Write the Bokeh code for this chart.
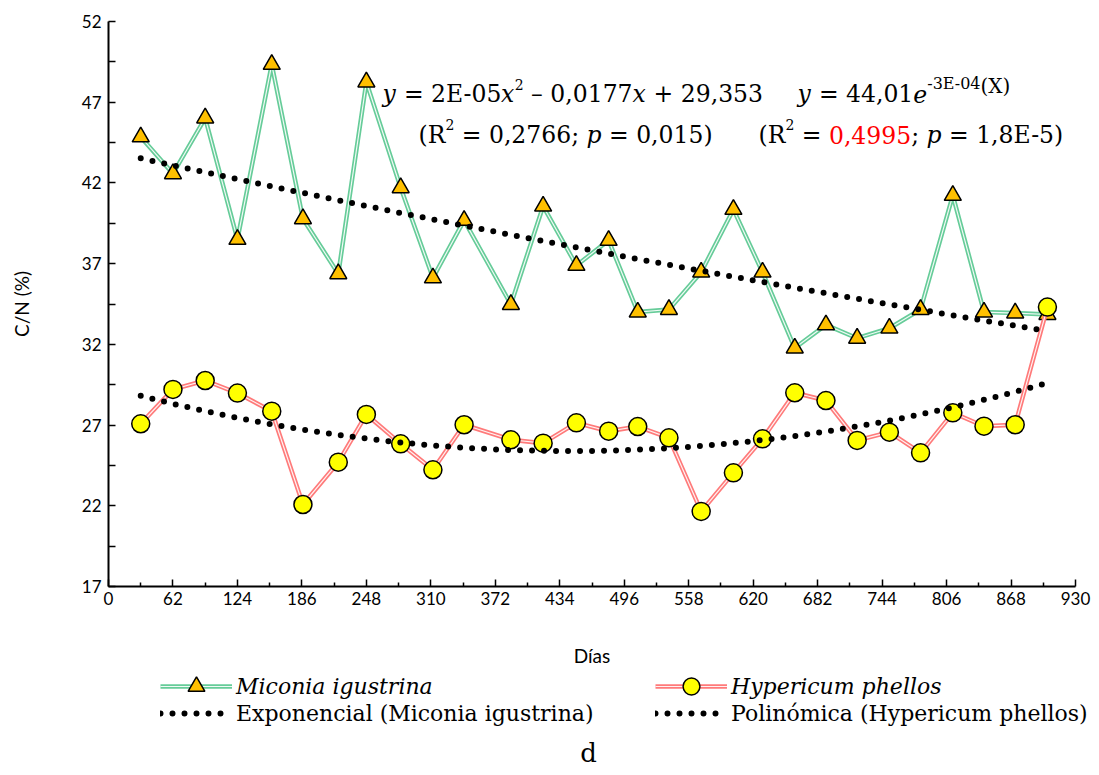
import numpy as np
from bokeh.plotting import figure
from bokeh.layouts import column
from bokeh.models import Range1d, FixedTicker, Label, Legend, LegendItem
from bokeh.embed import file_html
from bokeh.resources import INLINE

# ---------------- data ----------------
days = [31, 62, 93, 124, 157, 187, 221, 248, 281, 312, 342, 387, 418, 450, 481,
        509, 539, 570, 601, 629, 660, 690, 720, 751, 781, 812, 842, 872, 903]
miconia = [44.85, 42.57, 46.02, 38.50, 49.34, 39.78, 36.37, 48.25, 41.70, 36.12,
           39.68, 34.47, 40.56, 36.89, 38.44, 34.00, 34.16, 36.47, 40.36, 36.47,
           31.77, 33.21, 32.38, 33.00, 34.16, 41.23, 34.00, 33.94, 33.85]
hypericum = [27.08, 29.21, 29.76, 28.98, 27.86, 22.08, 24.70, 27.66, 25.84, 24.23,
             27.02, 26.09, 25.88, 27.14, 26.62, 26.91, 26.21, 21.65, 24.04, 26.15,
             29.00, 28.52, 26.05, 26.56, 25.28, 27.76, 26.93, 27.02, 34.31]
x_ticks = [0, 62, 124, 186, 248, 310, 372, 434, 496, 558, 620, 682, 744, 806, 868, 930]
y_ticks = [17, 22, 27, 32, 37, 42, 47, 52]
series_names = ["Miconia igustrina", "Hypericum phellos"]
trend_names = ["Exponencial (Miconia igustrina)", "Polinómica (Hypericum phellos)"]

# ---------------- trendlines fitted from the data ----------------
xs = np.linspace(days[0], days[-1], 300)
b_exp, loga = np.polyfit(days, np.log(miconia), 1)
exp_y = np.exp(loga) * np.exp(b_exp * xs)
c2 = np.polyfit(days, hypericum, 2)
poly_y = np.polyval(c2, xs)

x_minor = [(a + b) / 2 for a, b in zip(x_ticks[:-1], x_ticks[1:])]
y_minor = [(a + b) / 2 for a, b in zip(y_ticks[:-1], y_ticks[1:])]

GREEN = "#66CC99"
RED = "#FF7A7A"
GOLD = "#FFC000"
YEL = "#FFFF00"
SERIF = "DejaVu Serif"
SANS = "Lato"

W_ALL, H_ALL = 1099, 775
H_MAIN = 672
FL, FT, FB = 108, 21, 586  # frame left / top / bottom (canvas px)

p = figure(width=W_ALL, height=H_MAIN, output_backend="svg", toolbar_location=None, tools="",
           x_range=Range1d(0, 930), y_range=Range1d(17, 52),
           min_border_left=FL, min_border_right=24, min_border_top=FT,
           min_border_bottom=H_MAIN - FB)
p.outline_line_color = None
p.grid.visible = False

# axes
p.xaxis.ticker = FixedTicker(ticks=x_ticks, minor_ticks=x_minor)
p.yaxis.ticker = FixedTicker(ticks=y_ticks, minor_ticks=y_minor)
for ax in (p.xaxis[0], p.yaxis[0]):
    ax.axis_line_color = "black"
    ax.axis_line_width = 2
    ax.major_tick_line_color = "black"
    ax.minor_tick_line_color = "black"
    ax.major_tick_line_width = 1.5
    ax.minor_tick_line_width = 1.5
    ax.major_tick_out = 0
    ax.minor_tick_out = 0
    ax.major_label_text_font = SANS
    ax.major_label_text_font_size = "17px"
    ax.major_label_text_color = "black"
    ax.axis_label_text_font = SANS
    ax.axis_label_text_font_size = "19px"
    ax.axis_label_text_font_style = "normal"
    ax.axis_label_text_color = "black"
p.xaxis.major_tick_in = 7
p.xaxis.minor_tick_in = 4
p.yaxis.major_tick_in = 7
p.yaxis.minor_tick_in = 7
p.xaxis.axis_label = "Días"
p.yaxis.axis_label = "C/N (%)"
p.xaxis.major_label_standoff = 5
p.xaxis.axis_label_standoff = 36
p.yaxis.major_label_standoff = 7
p.yaxis.axis_label_standoff = 46

# series
line_kw = dict(line_width=4.5)
g1 = p.line(days, miconia, line_color=GREEN, **line_kw)
g2 = p.line(days, miconia, line_color="white", line_width=1.2, line_alpha=0.9)
g3 = p.scatter(days, miconia, marker="triangle", size=17, fill_color=GOLD,
               line_color="black", line_width=1.5)
h1 = p.line(days, hypericum, line_color=RED, **line_kw)
h2 = p.line(days, hypericum, line_color="white", line_width=1.2, line_alpha=0.9)
h3 = p.scatter(days, hypericum, marker="circle", size=18, fill_color=YEL,
               line_color="black", line_width=1.5)
dot_kw = dict(line_color="black", line_width=6, line_dash="0 12", line_cap="round")
t1 = p.line(xs, exp_y, **dot_kw)
t2 = p.line(xs, poly_y, **dot_kw)


# ---------------- text helpers (equations) ----------------
def put(fig, txt, sx, sy, size, style="normal", color="black", align="left",
        baseline="alphabetic", font=SERIF):
    fig.add_layout(Label(x=sx, y=sy, x_units="screen", y_units="screen", text=txt,
                         text_font=font, text_font_size=f"{size}px", text_font_style=style,
                         text_color=color, text_align=align, text_baseline=baseline))


W = {' ': .318, ',': .318, '.': .318, '-': .35, '=': .838, '+': .838, '–': .5, 'E': .722,
     'R': .754, 'X': .739, '(': .391, ')': .391, ';': .337}
for d in "0123456789":
    W[d] = .636
WI = {'y': .592, 'x': .58, 'p': .638, 'e': .592}


def width(txt, style):
    tab = WI if style == "italic" else W
    return sum(tab.get(c, W.get(c, .6)) for c in txt)


def eq(pieces, cx, cy):
    x = cx
    for txt, size, style, rise, color in pieces:
        lead = len(txt) - len(txt.lstrip())
        put(p, txt.strip(), x + lead * W[' '] * size - FL, FB - (cy - rise), size,
            style=style, color=color)
        x += width(txt, style) * size


S = 23.5
eq([("y", S, "italic", 0, "black"), (" = 2E-05", S, "normal", 0, "black"),
    ("x", S, "italic", 0, "black"), ("2", 14, "normal", 9, "black"),
    (" – 0,0177", S, "normal", 0, "black"), ("x", S, "italic", 0, "black"),
    (" + 29,353", S, "normal", 0, "black")], 382, 93)
eq([("y", S, "italic", 0, "black"), (" = 44,01", S, "normal", 0, "black"),
    ("e", S, "italic", 0, "black"), ("-3E-04", 16, "normal", 10, "black"),
    ("(X)", 20, "normal", 8, "black")], 797, 93)
eq([("(R", S, "normal", 0, "black"), ("2", 14, "normal", 10, "black"),
    (" = 0,2766; ", S, "normal", 0, "black"), ("p", S, "italic", 0, "black"),
    (" = 0,015)", S, "normal", 0, "black")], 418, 134)
eq([("(R", S, "normal", 0, "black"), ("2", 14, "normal", 10, "black"),
    (" = ", S, "normal", 0, "black"), ("0,4995", S, "normal", 0, "#FF0000"),
    ("; ", S, "normal", 0, "black"), ("p", S, "italic", 0, "black"),
    (" = 1,8E-5)", S, "normal", 0, "black")], 758, 134)

# ---------------- legend strip (second figure) ----------------
H2 = H_ALL - H_MAIN
p2 = figure(width=W_ALL, height=H2, output_backend="svg", toolbar_location=None, tools="",
            x_range=Range1d(0, W_ALL), y_range=Range1d(H_ALL, H_MAIN),
            min_border=0, x_axis_location=None, y_axis_location=None)
p2.outline_line_color = None
p2.grid.visible = False

# the column layout may align the two frames; switch that off when possible
OFFX, LEG_FS = FL, 21
try:
    p.frame_align = False
    p2.frame_align = False
    OFFX, LEG_FS = 0, 22
except Exception:
    pass

# off-range stand-ins that carry the legend styles
OFF = [-5000]
lg1 = p2.line(OFF, OFF, line_color=GREEN, **line_kw)
lg2 = p2.line(OFF, OFF, line_color="white", line_width=1.2, line_alpha=0.9)
lg3 = p2.scatter(OFF, OFF, marker="triangle", fill_color=GOLD, line_color="black", line_width=1.5)
lh1 = p2.line(OFF, OFF, line_color=RED, **line_kw)
lh2 = p2.line(OFF, OFF, line_color="white", line_width=1.2, line_alpha=0.9)
lh3 = p2.scatter(OFF, OFF, marker="circle", fill_color=YEL, line_color="black", line_width=1.5)
lt = p2.line(OFF, OFF, **dot_kw)


def mk_legend(label, renderers, cx, cy_center, style):
    h = 42
    lg = Legend(items=[LegendItem(label=label, renderers=renderers)],
                location=(cx - OFFX, H_ALL - (cy_center + h / 2)), orientation="vertical",
                padding=0, margin=0, spacing=0, glyph_width=72, glyph_height=h,
                label_height=h, label_standoff=4, label_text_font=SERIF,
                label_text_font_size=f"{LEG_FS}px", label_text_font_style=style,
                label_text_color="black",
                border_line_alpha=0, background_fill_alpha=0)
    p2.add_layout(lg)


mk_legend(series_names[0], [lg1, lg2, lg3], 160, 686, "italic")
mk_legend(trend_names[0], [lt], 160, 713, "normal")
mk_legend(series_names[1], [lh1, lh2, lh3], 655, 686, "italic")
mk_legend(trend_names[1], [lt], 655, 713, "normal")

put(p2, "d", 588 - OFFX, H_ALL - 752, 26, align="center", baseline="middle")

open("out.html", "w").write(file_html(column(p, p2), INLINE))
